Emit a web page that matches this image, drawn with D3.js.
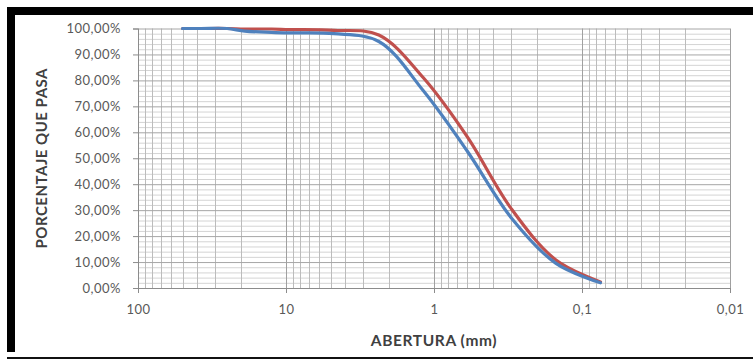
<!DOCTYPE html>
<html>
<head>
<meta charset="utf-8">
<script src="https://cdn.jsdelivr.net/npm/d3@7"></script>
<style>
  body { margin: 0; background: #fff; }
  svg { display: block; }
  .tick text { font-family: Lato, "Open Sans", sans-serif; fill: #595959; }
</style>
</head>
<body>
<svg id="chart"></svg>
<script>
// tamices (mm) y % que pasa
const aberturas = [50, 37.5, 25, 19, 12.5, 9.5, 4.75, 2.36, 1.18, 0.6, 0.3, 0.15, 0.075];
const pasaAzul = [100, 100, 100, 99, 98.5, 98.3, 98, 95, 76, 53, 27, 9.5, 2.0];
const pasaRojo = [100, 100, 100, 99.8, 99.8, 99.6, 99.3, 97.5, 81, 58.5, 30.5, 10.8, 2.3];

const xTicks = [100, 10, 1, 0.1, 0.01];
const xTickLabels = ["100", "10", "1", "0,1", "0,01"];
const yTicks = d3.range(0, 101, 10);

const W = 753, H = 360;
const margin = { left: 138, right: 23, top: 28.5, bottom: 72 };

const svg = d3.select("#chart").attr("width", W).attr("height", H);

const x = d3.scaleLog().domain([100, 0.01]).range([margin.left, W - margin.right]);
const y = d3.scaleLinear().domain([0, 100]).range([H - margin.bottom, margin.top]);

const fmt = d3.formatLocale({ decimal: ",", thousands: ".", grouping: [3], currency: ["", ""] });
const pct = v => fmt.format(".2f")(v) + "%";

// marco negro
svg.append("rect").attr("x", 7).attr("y", 7).attr("width", W - 7).attr("height", 8).attr("fill", "#000");
svg.append("rect").attr("x", 7).attr("y", 7).attr("width", 8).attr("height", 352 - 7).attr("fill", "#000");
svg.append("rect").attr("x", 7).attr("y", 357).attr("width", W - 7).attr("height", 2).attr("fill", "#111");

const grid = svg.append("g");

// lineas menores horizontales (cada 2%)
grid.selectAll("line.hmin")
  .data(d3.range(0, 101, 2).filter(v => v % 10 !== 0))
  .join("line")
    .attr("x1", x(100)).attr("x2", x(0.01))
    .attr("y1", d => y(d) + 0.5).attr("y2", d => y(d) + 0.5)
    .attr("stroke", "#d4d4d4");

// lineas menores verticales
const minors = [];
[0.01, 0.1, 1, 10].forEach(d => { for (let k = 2; k <= 9; k++) minors.push(k * d); });
grid.selectAll("line.vmin")
  .data(minors)
  .join("line")
    .attr("x1", d => Math.round(x(d)) + 0.5).attr("x2", d => Math.round(x(d)) + 0.5)
    .attr("y1", y(0)).attr("y2", y(100))
    .attr("stroke", "#bcbcbc");

// lineas mayores
grid.selectAll("line.hmaj")
  .data(yTicks)
  .join("line")
    .attr("x1", x(100)).attr("x2", x(0.01))
    .attr("y1", d => y(d) + 0.5).attr("y2", d => y(d) + 0.5)
    .attr("stroke", "#a6a6a6");
grid.selectAll("line.vmaj")
  .data(xTicks)
  .join("line")
    .attr("x1", d => Math.round(x(d)) + 0.5).attr("x2", d => Math.round(x(d)) + 0.5)
    .attr("y1", y(0)).attr("y2", y(100))
    .attr("stroke", "#a0a0a0");

// ejes
const yAxis = d3.axisLeft(y).tickValues(yTicks).tickFormat(pct).tickSize(5).tickPadding(12);
const yAxisG = svg.append("g").attr("transform", `translate(${x(100)},0)`).call(yAxis);
yAxisG.selectAll("text").style("font-size", "13px").style("letter-spacing", "0.5px");

const xAxis = d3.axisBottom(x).tickValues(xTicks).tickFormat((d, i) => xTickLabels[i]).tickSize(5).tickPadding(12);
const xAxisG = svg.append("g").attr("transform", `translate(0,${y(0)})`).call(xAxis);
xAxisG.selectAll("text").style("font-size", "13px").style("letter-spacing", "0.5px");

svg.selectAll(".domain, .tick line").attr("stroke", "#8c8c8c");

// curvas
const line = d3.line()
  .x(d => x(d[0]))
  .y(d => y(d[1]))
  .curve(d3.curveCatmullRom.alpha(0.5));

const series = [
  { name: "rojo", values: d3.zip(aberturas, pasaRojo), color: "#c0504d" },
  { name: "azul", values: d3.zip(aberturas, pasaAzul), color: "#4f81bd" }
];

svg.append("g")
  .selectAll("path")
  .data(series)
  .join("path")
    .attr("d", d => line(d.values))
    .attr("fill", "none")
    .attr("stroke", d => d.color)
    .attr("stroke-width", 3.2)
    .attr("stroke-linejoin", "round")
    .attr("stroke-linecap", "round");

// titulos
svg.append("text")
  .attr("transform", `translate(47,${(y(0) + y(100)) / 2}) rotate(-90)`)
  .attr("text-anchor", "middle")
  .style("font-family", "Lato, 'Open Sans', sans-serif")
  .style("font-size", "15px")
  .style("font-weight", "bold")
  .style("letter-spacing", "0.5px")
  .style("fill", "#404040")
  .text("PORCENTAJE QUE PASA");

svg.append("text")
  .attr("x", x(1))
  .attr("y", 346)
  .attr("text-anchor", "middle")
  .style("font-family", "Lato, 'Open Sans', sans-serif")
  .style("font-size", "15.5px")
  .style("font-weight", "bold")
  .style("letter-spacing", "0.6px")
  .style("fill", "#404040")
  .text("ABERTURA (mm)");
</script>
</body>
</html>
